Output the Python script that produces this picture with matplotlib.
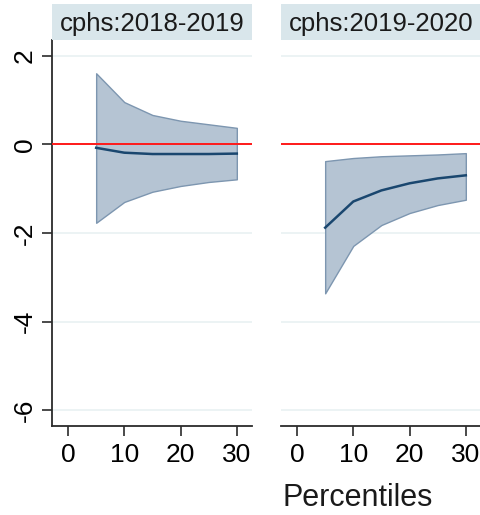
import matplotlib
matplotlib.use("Agg")
import matplotlib.pyplot as plt
from matplotlib.patches import Rectangle

plt.rcParams['font.family'] = ['Liberation Sans', 'DejaVu Sans']

# Percentile grid and estimates per panel
percentiles = [5, 10, 15, 20, 25, 30]
panel_titles = ["cphs:2018-2019", "cphs:2019-2020"]

est_2018 = [-0.08, -0.19, -0.22, -0.22, -0.22, -0.21]
upper_2018 = [1.60, 0.95, 0.66, 0.53, 0.45, 0.37]
lower_2018 = [-1.77, -1.30, -1.07, -0.94, -0.85, -0.79]

est_2019 = [-1.88, -1.29, -1.04, -0.88, -0.77, -0.70]
upper_2019 = [-0.38, -0.31, -0.27, -0.25, -0.23, -0.20]
lower_2019 = [-3.36, -2.29, -1.82, -1.55, -1.37, -1.25]

x_ticks = [0, 10, 20, 30]
y_ticks = [2, 0, -2, -4, -6]
x_title = "Percentiles"

panels = [
    (est_2018, upper_2018, lower_2018),
    (est_2019, upper_2019, lower_2019),
]

W, H = 481, 515
fig = plt.figure(figsize=(W / 100, H / 100), dpi=100)

fill_col = "#b5c4d3"
edge_col = "#7d96b0"
line_col = "#1a476f"
grid_col = "#eaf2f3"
strip_col = "#d9e6eb"
spine_col = "#2b2b2b"

ax_lefts = [52, 281]
ax_w = 200
ax_bottom = 426
ax_top = 40
strip_top = 4

for i, (est, up, lo) in enumerate(panels):
    left = ax_lefts[i]
    ax = fig.add_axes([left / W, (H - ax_bottom) / H, ax_w / W, (ax_bottom - ax_top) / H])
    ax.set_xlim(-2.85, 32.7)
    ax.set_ylim(-6.35, 2.35)
    for y in y_ticks:
        ax.axhline(y, color=grid_col, lw=1.3, zorder=0)
    ax.fill_between(percentiles, lo, up, facecolor=fill_col, edgecolor=edge_col,
                    lw=1.0, zorder=2)
    ax.plot(percentiles, est, color=line_col, lw=1.8, zorder=3)
    ax.axhline(0, color="#ff1a1a", lw=1.4, zorder=4)

    ax.set_xticks(x_ticks)
    ax.set_xticklabels([str(t) for t in x_ticks], fontsize=19)
    ax.tick_params(axis='x', direction='out', length=7, width=1.2, color=spine_col, pad=5)
    for s in ['top', 'right']:
        ax.spines[s].set_visible(False)
    ax.spines['bottom'].set_color(spine_col)
    ax.spines['bottom'].set_linewidth(1.3)
    if i == 0:
        ax.set_yticks(y_ticks)
        ax.set_yticklabels([str(t) for t in y_ticks], fontsize=19, rotation=90, va='center')
        ax.tick_params(axis='y', direction='out', length=7, width=1.2, color=spine_col, pad=4)
        ax.spines['left'].set_color(spine_col)
        ax.spines['left'].set_linewidth(1.3)
    else:
        ax.set_yticks([])
        ax.spines['left'].set_visible(False)

    # Panel title strip
    sax = fig.add_axes([left / W, (H - ax_top) / H, ax_w / W, (ax_top - strip_top) / H])
    sax.set_xlim(0, 1)
    sax.set_ylim(0, 1)
    sax.axis('off')
    sax.add_patch(Rectangle((0, 0), 1, 1, facecolor=strip_col, edgecolor='none'))
    sax.text(0.5, 0.45, panel_titles[i], ha='center', va='center', fontsize=18.5, color='#1a1a1a')

fig.text(358 / W, 1 - 498 / H, x_title, ha='center', va='center', fontsize=22, color='#1a1a1a')

fig.savefig("out.png", dpi=100, facecolor='white')
